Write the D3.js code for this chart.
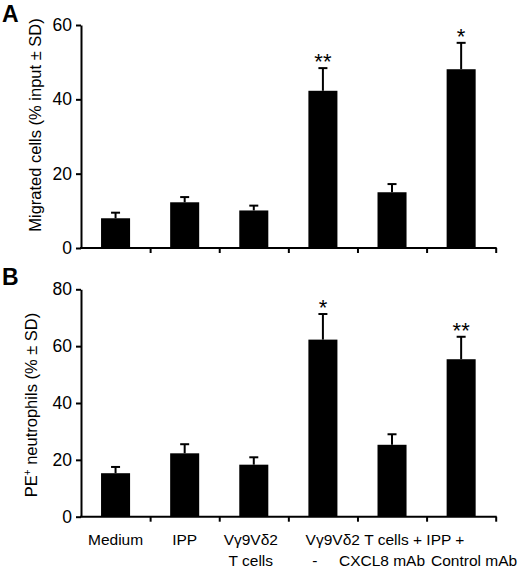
<!DOCTYPE html>
<html>
<head>
<meta charset="utf-8">
<script src="https://cdn.jsdelivr.net/npm/d3@7"></script>
<style>
  body { margin: 0; background: #fff; }
  svg { display: block; }
  text { font-family: "Liberation Sans", Arial, Helvetica, sans-serif; fill: #000; }
</style>
</head>
<body>
<svg id="chart" width="520" height="571"></svg>
<script>
// ---- data ----
const categories = ["Medium", "IPP", "Vγ9Vδ2 T cells", "Vγ9Vδ2 T cells + IPP", "+ CXCL8 mAb", "+ Control mAb"];
const migratedMean = [8.0, 12.3, 10.1, 42.3, 15.0, 48.1];
const migratedSD   = [1.5, 1.4, 1.3, 6.1, 2.2, 7.1];
const migratedStars = ["", "", "", "**", "", "*"];
const peMean = [15.3, 22.3, 18.3, 62.3, 25.3, 55.4];
const peSD   = [2.2, 3.2, 2.6, 9.0, 3.7, 7.9];
const peStars = ["", "", "", "*", "", "**"];
const migratedTicks = [0, 20, 40, 60];
const peTicks = [0, 20, 40, 60, 80];

const svg = d3.select("#chart");
const left = 81, right = 495.7;

const x = d3.scaleBand().domain(categories).range([left, right])
  .paddingInner(0.58).paddingOuter(0.29);
const xBounds = d3.scaleLinear().domain([0, categories.length]).range([left, right]);

function panel(opts) {
  const y = d3.scaleLinear().domain(opts.domain).range([opts.bottom, opts.top]);
  const g = svg.append("g");

  // bars
  g.selectAll("rect.bar").data(opts.mean).join("rect")
    .attr("class", "bar")
    .attr("x", (d, i) => x(categories[i]))
    .attr("width", x.bandwidth())
    .attr("y", d => y(d))
    .attr("height", d => y(0) - y(d))
    .attr("fill", "#000");

  // error bars
  const cx = i => x(categories[i]) + x.bandwidth() / 2;
  g.selectAll("line.err").data(opts.mean).join("line")
    .attr("class", "err")
    .attr("x1", (d, i) => cx(i)).attr("x2", (d, i) => cx(i))
    .attr("y1", d => y(d)).attr("y2", (d, i) => y(d + opts.sd[i]))
    .attr("stroke", "#000").attr("stroke-width", 2);
  g.selectAll("line.cap").data(opts.mean).join("line")
    .attr("class", "cap")
    .attr("x1", (d, i) => cx(i) - 4.5).attr("x2", (d, i) => cx(i) + 4.5)
    .attr("y1", (d, i) => y(d + opts.sd[i])).attr("y2", (d, i) => y(d + opts.sd[i]))
    .attr("stroke", "#000").attr("stroke-width", 2);

  // stars
  g.selectAll("text.star").data(opts.stars).join("text")
    .attr("class", "star")
    .attr("x", (d, i) => cx(i))
    .attr("y", (d, i) => y(opts.mean[i] + opts.sd[i]) + 1)
    .attr("text-anchor", "middle")
    .attr("font-size", 22)
    .text(d => d);

  // y axis
  const ya = g.append("g").attr("transform", `translate(${left},0)`)
    .call(d3.axisLeft(y).tickValues(opts.ticks).tickSize(5).tickSizeOuter(0).tickPadding(4));
  ya.selectAll("path, line").attr("stroke", "#000").attr("stroke-width", 2);
  ya.selectAll("text").attr("font-size", 17.5).attr("font-family", "'Liberation Sans', Arial, sans-serif").attr("fill", "#000");

  // x axis
  const xa = g.append("g").attr("transform", `translate(0,${opts.bottom})`)
    .call(d3.axisBottom(xBounds).tickValues(d3.range(1, categories.length + 1)).tickFormat("").tickSize(5).tickSizeOuter(0));
  xa.selectAll("path, line").attr("stroke", "#000").attr("stroke-width", 2);
  xa.select("path").attr("d", `M${left - 1},0H${right + 1}`);

  // y label
  const lab = g.append("text")
    .attr("transform", `translate(${opts.labelX},${opts.labelY}) rotate(-90)`)
    .attr("text-anchor", "middle")
    .attr("font-size", 16.5);
  opts.label(lab);

  // panel letter
  g.append("text").attr("x", 2).attr("y", opts.letterY)
    .attr("font-size", 23).attr("font-weight", "bold").text(opts.letter);
  return y;
}

panel({
  domain: [0, 60], top: 25, bottom: 248, ticks: migratedTicks,
  mean: migratedMean, sd: migratedSD, stars: migratedStars,
  labelX: 41, labelY: 125, letter: "A", letterY: 22,
  label: t => t.text("Migrated cells (% input ± SD)")
});

panel({
  domain: [0, 80], top: 289.3, bottom: 516.7, ticks: peTicks,
  mean: peMean, sd: peSD, stars: peStars,
  labelX: 37, labelY: 405, letter: "B", letterY: 285,
  label: t => {
    t.append("tspan").text("PE");
    t.append("tspan").attr("font-size", 10).attr("dy", -6).text("+");
    t.append("tspan").attr("dy", 6).text(" neutrophils (% ± SD)");
  }
});

// x category labels (panel B)
const cxc = i => x(categories[i]) + x.bandwidth() / 2;
const lab = svg.append("g").attr("font-size", 15.5).attr("text-anchor", "middle");
const y1 = 545, y2 = 566;
lab.append("text").attr("x", cxc(0)).attr("y", y1).text("Medium");
lab.append("text").attr("x", cxc(1)).attr("y", y1).text("IPP");
lab.append("text").attr("x", cxc(2) - 3).attr("y", y1).text("Vγ9Vδ2");
lab.append("text").attr("x", cxc(2) - 3).attr("y", y2).text("T cells");
lab.append("text").attr("x", cxc(4) - 7).attr("y", y1).text("Vγ9Vδ2 T cells + IPP +");
lab.append("text").attr("x", cxc(3) - 8).attr("y", y2).text("-");
lab.append("text").attr("x", cxc(4) - 10).attr("y", y2).text("CXCL8 mAb");
lab.append("text").attr("x", cxc(5) + 56).attr("y", y2).attr("text-anchor", "end").text("Control mAb");
</script>
</body>
</html>
